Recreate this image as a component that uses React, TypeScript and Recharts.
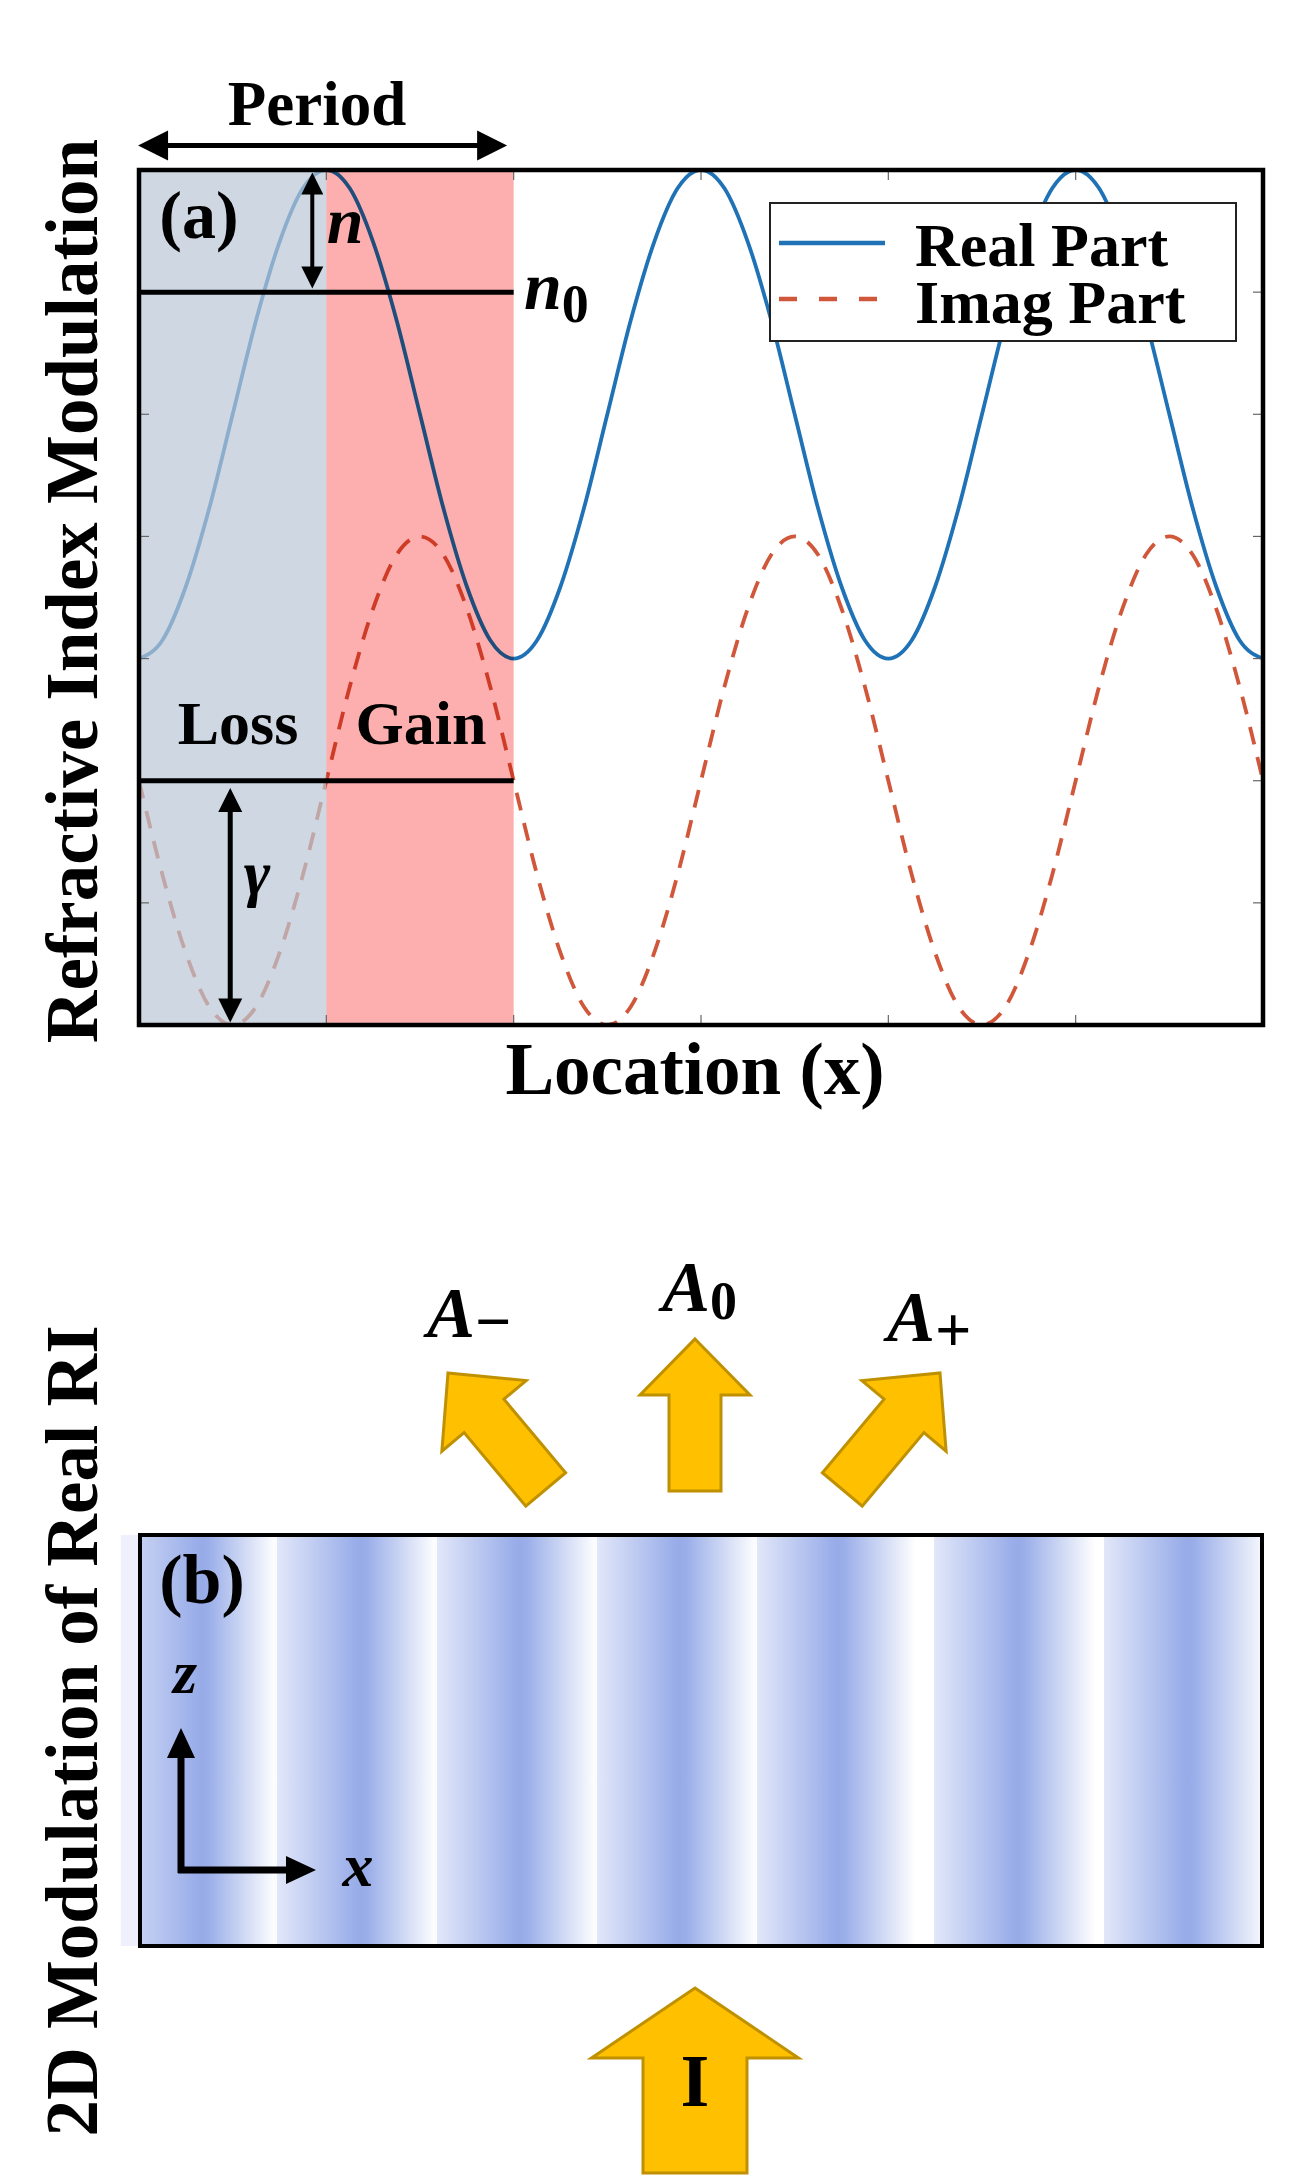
import React from "react";
import { ComposedChart, Line, XAxis, YAxis, ReferenceArea, ReferenceLine, Legend } from "recharts";

// location samples (half-period units, box spans 0..6)
const locationX = [
  0, 0.125, 0.25, 0.375, 0.5, 0.625, 0.75, 0.875,
  1, 1.125, 1.25, 1.375, 1.5, 1.625, 1.75, 1.875,
  2, 2.125, 2.25, 2.375, 2.5, 2.625, 2.75, 2.875,
  3, 3.125, 3.25, 3.375, 3.5, 3.625, 3.75, 3.875,
  4, 4.125, 4.25, 4.375, 4.5, 4.625, 4.75, 4.875,
  5, 5.125, 5.25, 5.375, 5.5, 5.625, 5.75, 5.875,
  6,
];

const realPart = [
  3.0, 3.15, 3.59, 4.23, 5.0, 5.77, 6.41, 6.85,
  7.0, 6.85, 6.41, 5.77, 5.0, 4.23, 3.59, 3.15,
  3.0, 3.15, 3.59, 4.23, 5.0, 5.77, 6.41, 6.85,
  7.0, 6.85, 6.41, 5.77, 5.0, 4.23, 3.59, 3.15,
  3.0, 3.15, 3.59, 4.23, 5.0, 5.77, 6.41, 6.85,
  7.0, 6.85, 6.41, 5.77, 5.0, 4.23, 3.59, 3.15,
  3.0,
];

const imagPart = [
  2.0, 1.23, 0.59, 0.15, 0.0, 0.15, 0.59, 1.23,
  2.0, 2.77, 3.41, 3.85, 4.0, 3.85, 3.41, 2.77,
  2.0, 1.23, 0.59, 0.15, 0.0, 0.15, 0.59, 1.23,
  2.0, 2.77, 3.41, 3.85, 4.0, 3.85, 3.41, 2.77,
  2.0, 1.23, 0.59, 0.15, 0.0, 0.15, 0.59, 1.23,
  2.0, 2.77, 3.41, 3.85, 4.0, 3.85, 3.41, 2.77,
  2.0,
];

const xTicks = [0, 1, 2, 3, 4, 5, 6];
const yTicks = [0, 1, 2, 3, 4, 5, 6, 7];

const n0Level = 6;
const gammaLevel = 2;
const lossSpan = [0, 1];
const gainSpan = [1, 2];

// panel (b): stripes of the real RI across the box (box spans 0..7)
const stripeStart = [0, 0.855, 1.853, 2.851, 3.849, 4.954, 6.014];
const stripeStartLevel = [0.55, 0.28, 0.28, 0.28, 0.28, 0.28, 0.28];
const stripePeak = [0.387, 1.379, 2.371, 3.369, 4.355, 5.478, 6.538];
const stripeFade = [0.83, 1.83, 2.83, 3.83, 4.84, 5.96, 7.0];
const stripeFadeLevel = [0.04, 0.04, 0.04, 0.04, 0.0, 0.0, 0.1];

const SERIF = "'Liberation Serif', 'Times New Roman', serif";
const REAL_COLOR = "#1f72b5";
const IMAG_COLOR = "#d0573a";
const ARROW_FILL = "#ffc000";
const ARROW_EDGE = "#bf9000";

const rows = locationX.map((x, i) => ({ x, real: realPart[i], imag: imagPart[i] }));

function arrowLine(head: number, half: number, both: boolean, width: number) {
  return (p: any) => {
    const x1 = Number(p.x1), y1 = Number(p.y1), x2 = Number(p.x2), y2 = Number(p.y2);
    const len = Math.hypot(x2 - x1, y2 - y1) || 1;
    const ux = (x2 - x1) / len, uy = (y2 - y1) / len;
    const nx = -uy, ny = ux;
    const tri = (tx: number, ty: number, dx: number, dy: number) => {
      const bx = tx - dx * head, by = ty - dy * head;
      return `${tx},${ty} ${bx + nx * half},${by + ny * half} ${bx - nx * half},${by - ny * half}`;
    };
    const sx = both ? x1 + ux * head * 0.7 : x1;
    const sy = both ? y1 + uy * head * 0.7 : y1;
    return (
      <g>
        <line x1={sx} y1={sy} x2={x2 - ux * head * 0.7} y2={y2 - uy * head * 0.7} stroke="#000" strokeWidth={width} />
        <polygon points={tri(x2, y2, ux, uy)} fill="#000" />
        {both && <polygon points={tri(x1, y1, -ux, -uy)} fill="#000" />}
      </g>
    );
  };
}

function LegendBox() {
  return (
    <div style={{ width: 468, height: 140, border: "2px solid #222", background: "#fff", boxSizing: "border-box" }}>
      <svg width={464} height={136}>
        <line x1={8} y1={39} x2={114} y2={39} stroke={REAL_COLOR} strokeWidth={4.5} />
        <line x1={8} y1={95} x2={114} y2={95} stroke={IMAG_COLOR} strokeWidth={4.5} strokeDasharray="18 22" />
        <text x={144} y={62} fontFamily={SERIF} fontWeight="bold" fontSize={62}>Real Part</text>
        <text x={144} y={119} fontFamily={SERIF} fontWeight="bold" fontSize={62}>Imag Part</text>
      </svg>
    </div>
  );
}

function level2color(v: number) {
  const r = Math.round(255 - v * (255 - 151));
  const g = Math.round(255 - v * (255 - 171));
  const b = Math.round(255 - v * (255 - 232));
  return `rgb(${r},${g},${b})`;
}

function stripeStops() {
  const stops: { off: number; lv: number }[] = [];
  stripeStart.forEach((s, i) => {
    const p = stripePeak[i], f = stripeFade[i];
    const next = i + 1 < stripeStart.length ? stripeStart[i + 1] : 7;
    stops.push({ off: s, lv: stripeStartLevel[i] });
    stops.push({ off: p - 0.04, lv: 0.97 });
    stops.push({ off: p, lv: 1 });
    stops.push({ off: p + 0.04, lv: 0.97 });
    stops.push({ off: f, lv: stripeFadeLevel[i] });
    stops.push({ off: next, lv: stripeFadeLevel[i] });
  });
  return stops.map((s, i) => (
    <stop key={i} offset={`${(s.off / 7) * 100}%`} stopColor={level2color(s.lv)} />
  ));
}

function BlockArrow({ tx, ty, angle, len, headLen, headW, shaftW }: any) {
  const pts = [
    [0, 0], [headW / 2, headLen], [shaftW / 2, headLen], [shaftW / 2, len],
    [-shaftW / 2, len], [-shaftW / 2, headLen], [-headW / 2, headLen],
  ].map((q) => q.join(",")).join(" ");
  return (
    <polygon
      points={pts}
      transform={`translate(${tx},${ty}) rotate(${angle})`}
      fill={ARROW_FILL}
      stroke={ARROW_EDGE}
      strokeWidth={3}
      strokeLinejoin="miter"
    />
  );
}

const axisCommon = {
  tick: () => <g />,
  mirror: true,
  tickSize: 10,
  axisLine: false,
  tickLine: { stroke: "#666", strokeWidth: 1.2 },
  allowDataOverflow: true,
};

export default function App() {
  return (
    <div style={{ position: "absolute", left: 0, top: 0, width: 1315, height: 2180, background: "#fff", fontFamily: SERIF }}>
      <div style={{ position: "absolute", left: 0, top: 0 }}>
        <ComposedChart width={1315} height={1100} data={rows} margin={{ top: 170, right: 52, bottom: 75, left: 139 }}>
          <XAxis xAxisId="b" dataKey="x" type="number" domain={[0, 6]} ticks={xTicks} orientation="bottom" height={1} {...axisCommon} />
          <XAxis xAxisId="t" dataKey="x" type="number" domain={[0, 6]} ticks={xTicks} orientation="top" height={1} {...axisCommon} />
          <YAxis yAxisId="l" type="number" domain={[0, 7]} ticks={yTicks} orientation="left" width={1} {...axisCommon} />
          <YAxis yAxisId="r" type="number" domain={[0, 7]} ticks={yTicks} orientation="right" width={1} {...axisCommon} />
          <Line xAxisId="b" yAxisId="l" dataKey="real" name="Real Part" type="monotone" stroke={REAL_COLOR} strokeWidth={3.8} dot={false} isAnimationActive={false} />
          <Line xAxisId="b" yAxisId="l" dataKey="imag" name="Imag Part" type="monotone" stroke={IMAG_COLOR} strokeWidth={3.8} strokeDasharray="18 13" dot={false} isAnimationActive={false} />
          <ReferenceArea xAxisId="b" yAxisId="l" x1={lossSpan[0]} x2={lossSpan[1]} y1={0} y2={7} fill="#bac7d6" fillOpacity={0.7} stroke="none" zIndex={450} />
          <ReferenceArea xAxisId="b" yAxisId="l" x1={gainSpan[0]} x2={gainSpan[1]} y1={0} y2={7} fill="#fdafaf" fillOpacity={1} stroke="none" style={{ mixBlendMode: "multiply" }} zIndex={450} />
          <ReferenceLine xAxisId="b" yAxisId="l" segment={[{ x: 0, y: n0Level }, { x: 2, y: n0Level }]} stroke="#000" strokeWidth={5} ifOverflow="visible" zIndex={500} />
          <ReferenceLine xAxisId="b" yAxisId="l" segment={[{ x: 0, y: gammaLevel }, { x: 2, y: gammaLevel }]} stroke="#000" strokeWidth={5} ifOverflow="visible" zIndex={500} />
          <ReferenceLine xAxisId="b" yAxisId="l" segment={[{ x: 0.925, y: 6.98 }, { x: 0.925, y: 6.03 }]} ifOverflow="visible" shape={arrowLine(22, 11, true, 4)} zIndex={500} />
          <ReferenceLine xAxisId="b" yAxisId="l" segment={[{ x: 0.487, y: 1.94 }, { x: 0.487, y: 0.02 }]} ifOverflow="visible" shape={arrowLine(24, 12, true, 5)} zIndex={500} />
          <ReferenceLine xAxisId="b" yAxisId="l" segment={[{ x: -0.005, y: 7.2 }, { x: 1.965, y: 7.2 }]} ifOverflow="visible" shape={arrowLine(30, 15, true, 5)} zIndex={500} />
          <ReferenceArea xAxisId="b" yAxisId="l" x1={0} x2={6} y1={0} y2={7} fill="none" fillOpacity={0} stroke="#000" strokeWidth={4.5} ifOverflow="visible" zIndex={600} />
          <Legend
            layout="horizontal"
            verticalAlign="middle"
            align="center"
            content={() => <LegendBox />}
            wrapperStyle={{ left: 769, top: 202, width: 468, height: 140 }}
          />
        </ComposedChart>
      </div>

      <div style={{ position: "absolute", left: 0, top: 1480 }}>
        <ComposedChart width={1315} height={520} data={stripePeak.map((x) => ({ x }))} margin={{ top: 55, right: 53, bottom: 54, left: 140 }}>
          <defs>
            <linearGradient id="riStripes" x1="0" y1="0" x2="1" y2="0">
              {stripeStops()}
            </linearGradient>
          </defs>
          <XAxis dataKey="x" type="number" domain={[0, 7]} hide allowDataOverflow />
          <YAxis type="number" domain={[0, 1]} hide allowDataOverflow />
          <ReferenceArea x1={-0.12} x2={0} y1={0} y2={1} fill="#eef1fb" fillOpacity={1} stroke="none" ifOverflow="visible" />
          <ReferenceArea x1={0} x2={7} y1={0} y2={1} fill="url(#riStripes)" fillOpacity={1} stroke="#000" strokeWidth={4} ifOverflow="visible" />
        </ComposedChart>
      </div>

      <svg width={1315} height={2180} style={{ position: "absolute", left: 0, top: 0, pointerEvents: "none" }} fontFamily={SERIF} fontWeight="bold">
        <text x={317} y={125} fontSize={63} textAnchor="middle">Period</text>
        <text x={199} y={238} fontSize={68} textAnchor="middle">(a)</text>
        <text x={345} y={243} fontSize={66} fontStyle="italic" textAnchor="middle">n</text>
        <text x={524} y={309} fontSize={68} fontStyle="italic">n<tspan fontStyle="normal" fontSize={54} dy={13}>0</tspan></text>
        <text x={238} y={744} fontSize={62} textAnchor="middle">Loss</text>
        <text x={421} y={744} fontSize={62} textAnchor="middle">Gain</text>
        <text x={257} y={894} fontSize={64} fontStyle="italic" textAnchor="middle">γ</text>
        <text x={695} y={1094} fontSize={73} textAnchor="middle">Location (x)</text>
        <text transform="translate(97,591) rotate(-90)" fontSize={73} textAnchor="middle">Refractive Index Modulation</text>
        <text transform="translate(97,1731) rotate(-90)" fontSize={73} textAnchor="middle">2D Modulation of Real RI</text>

        <text x={202} y={1603} fontSize={70} textAnchor="middle">(b)</text>
        <line x1={181} y1={1873} x2={181} y2={1752} stroke="#000" strokeWidth={7} />
        <polygon points="181,1728 167,1758 195,1758" fill="#000" />
        <line x1={178} y1={1870} x2={292} y2={1870} stroke="#000" strokeWidth={7} />
        <polygon points="316,1870 286,1856 286,1884" fill="#000" />
        <text x={185} y={1693} fontSize={62} fontStyle="italic" textAnchor="middle">z</text>
        <text x={358} y={1886} fontSize={62} fontStyle="italic" textAnchor="middle">x</text>

        <BlockArrow tx={448} ty={1373} angle={-40} len={152} headLen={56} headW={110} shaftW={52} />
        <BlockArrow tx={695} ty={1339} angle={0} len={152} headLen={56} headW={110} shaftW={52} />
        <BlockArrow tx={940} ty={1373} angle={40} len={152} headLen={56} headW={110} shaftW={52} />
        <BlockArrow tx={695} ty={1988} angle={0} len={185} headLen={70} headW={207} shaftW={104} />

        <text x={427} y={1337} fontSize={72} fontStyle="italic">A<tspan fontStyle="normal" fontSize={64} dy={6}>−</tspan></text>
        <text x={662} y={1311} fontSize={72} fontStyle="italic">A<tspan fontStyle="normal" fontSize={54} dy={8}>0</tspan></text>
        <text x={887} y={1341} fontSize={72} fontStyle="italic">A<tspan fontStyle="normal" fontSize={64} dy={10}>+</tspan></text>
        <text x={695} y={2106} fontSize={74} textAnchor="middle">I</text>
      </svg>
    </div>
  );
}
